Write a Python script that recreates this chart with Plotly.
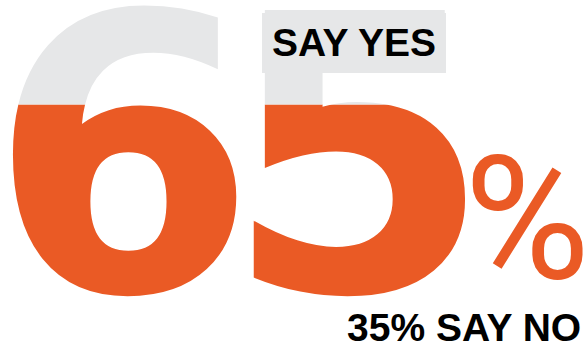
import plotly.graph_objects as go

# Poll result
labels = ["SAY YES", "SAY NO"]
shares = [65, 35]

W, H = 586, 343
ORANGE = "#EA5A25"
GRAY = "#E6E7E8"
BIG_FONT = "DejaVu Sans"
LABEL_FONT = "Liberation Sans"

# Vertical extent of the big figure (px from the bottom of the canvas)
num_bottom, num_top = 61, 334
fill_y = num_bottom + shares[0] / 100 * (num_top - num_bottom)
split = fill_y / H

digits = list(str(shares[0]))
digit_x = [123, 358]
num_y = 148.5

fig = go.Figure()
# Same number drawn twice: orange in the lower (filled) panel, gray in the upper one;
# each copy is clipped to its own panel so the fill level reads as the share.
for color, yax in [(ORANGE, "y"), (GRAY, "y2")]:
    fig.add_trace(go.Scatter(
        x=digit_x, y=[num_y] * len(digits), mode="text", text=digits,
        textposition="middle center",
        textfont=dict(family=BIG_FONT, size=385, color=color, weight="bold"),
        cliponaxis=True, xaxis="x", yaxis=yax,
        hoverinfo="skip", showlegend=False,
    ))

# Label box for the "yes" share
fig.add_shape(type="rect", xref="x", yref="paper",
              x0=262, x1=446, y0=(H - 73) / H, y1=(H - 13) / H,
              fillcolor=GRAY, line_width=0, layer="below")
fig.add_annotation(x=270, y=(H - 42) / H, xref="x", yref="paper",
                   text=labels[0], showarrow=False, xanchor="left", yanchor="middle",
                   font=dict(family=LABEL_FONT, size=39, color="black", weight="bold"))

# Percent sign
fig.add_annotation(x=527, y=124 / H, xref="x", yref="paper",
                   text="%", showarrow=False, xanchor="center", yanchor="middle",
                   font=dict(family="Roboto", size=172, color=ORANGE, weight=400))

# "No" share
fig.add_annotation(x=583, y=16 / H, xref="x", yref="paper",
                   text=f"{shares[1]}% {labels[1]}", showarrow=False,
                   xanchor="right", yanchor="middle",
                   font=dict(family=LABEL_FONT, size=39, color="black", weight="bold"))

hidden = dict(visible=False, showgrid=False, zeroline=False, fixedrange=True)
fig.update_layout(
    width=W, height=H,
    margin=dict(l=0, r=0, t=0, b=0),
    paper_bgcolor="white", plot_bgcolor="rgba(0,0,0,0)",
    xaxis=dict(range=[0, W], domain=[0, 1], **hidden),
    yaxis=dict(range=[0, fill_y], domain=[0, split], **hidden),
    yaxis2=dict(range=[fill_y, H], domain=[split, 1], anchor="x", **hidden),
)

fig.write_html("out.html")
